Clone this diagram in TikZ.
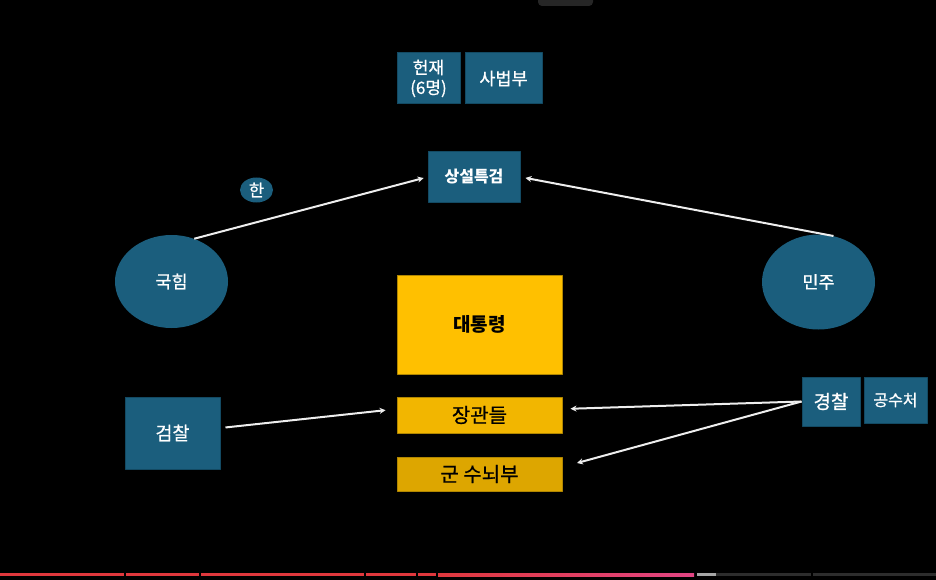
\documentclass[tikz,border=0pt]{standalone}
\usepackage{fontspec}
\setmainfont{Noto Sans CJK KR}[FakeBold=0.7, BoldFeatures={FakeBold=0}]
\usetikzlibrary{shapes.geometric, arrows.meta}

\definecolor{bluefill}{HTML}{1B5E7D}
\definecolor{blueline}{HTML}{134A63}
\definecolor{goldA}{HTML}{FFC000}
\definecolor{goldB}{HTML}{F2B600}
\definecolor{goldC}{HTML}{DDA600}
\definecolor{goldline}{HTML}{B08600}
\definecolor{arrowgray}{HTML}{EEEEEE}
\definecolor{barred}{HTML}{E0383D}
\definecolor{barpink}{HTML}{E24584}

\tikzset{
  bluebox/.style={draw=blueline, fill=bluefill, text=white, line width=1pt, inner sep=0pt, align=center},
  blueblob/.style={ellipse, fill=bluefill, text=white, inner sep=0pt},
  goldbox/.style={draw=goldline, line width=1pt, text=black, inner sep=0pt, minimum width=165pt},
  link/.style={draw=arrowgray, line width=2pt, -{Stealth[length=6pt, width=6pt]}},
  txt/.style={font=\fontsize{#1}{#1}\selectfont},
  boldtxt/.style={font=\fontsize{#1}{#1}\selectfont\bfseries}
}

\begin{document}
\begin{tikzpicture}[x=1pt, y=-1pt, line join=round]
  \fill[black] (0,0) rectangle (936,580);
  \useasboundingbox (0,0) rectangle (936,580);

  % top
  \node[bluebox, minimum width=63pt, minimum height=51pt, font=\fontsize{17}{20}\selectfont] (hunjae) at (428.5,78.5) {헌재\\(6명)};
  \node[bluebox, minimum width=77pt, minimum height=51pt, txt=17.5] (sabeob) at (503.5,78.5) {사법부};
  \node[bluebox, minimum width=92pt, minimum height=50pt, boldtxt=16] (sangseol) at (474,177) {상설특검};

  % parties
  \node[blueblob, minimum width=33pt, minimum height=25pt, txt=16.5] (han) at (256.5,190) {한};
  \node[blueblob, minimum width=113pt, minimum height=93pt, txt=17.5] (gukhim) at (171.5,281.5) {국힘};
  \node[blueblob, minimum width=113pt, minimum height=95pt, txt=17.5] (minju) at (818.5,282) {민주};

  % executive
  \node[goldbox, fill=goldA, minimum height=99pt, boldtxt=19] (president) at (479.5,324.5) {대통령};
  \node[goldbox, fill=goldB, minimum height=36pt, txt=20] (ministers) at (479.5,415) {장관들};
  \node[goldbox, fill=goldC, minimum height=34pt, txt=20] (military) at (479.5,474) {군 수뇌부};

  % agencies
  \node[bluebox, minimum width=95pt, minimum height=72pt, txt=18.5] (geomchal) at (172.5,433) {검찰};
  \node[bluebox, minimum width=58pt, minimum height=49pt, txt=19] (gyeongchal) at (831,401.5) {경찰};
  \node[bluebox, minimum width=63pt, minimum height=46pt, txt=16] (gongsu) at (895.5,400) {공수처};

  % arrows
  \draw[link, shorten >=4pt] (gukhim.62) -- (sangseol.west);
  \draw[link, shorten >=5pt] (minju.72) -- (sangseol.east);
  \draw[link, shorten <=5pt, shorten >=11pt] ([yshift=5pt]geomchal.east) -- ([yshift=6pt]ministers.west);
  \draw[link, shorten >=8pt] (gyeongchal.west) -- ([yshift=6pt]ministers.east);
  \draw[link, shorten >=15pt] (gyeongchal.west) -- ([yshift=7pt]military.east);

  % player bar
  \fill[barred] (0,573) rectangle (124,576);
  \fill[barred] (126,573) rectangle (199,576);
  \fill[barred] (201,573) rectangle (364,576);
  \fill[barred] (366,573) rectangle (416,576);
  \fill[barred] (418,573) rectangle (436,576);
  \shade[left color=barred, right color=barpink] (438,573) rectangle (694,576);
  \fill[gray!70] (697,573) rectangle (716,576);
  \fill[gray!35!black] (716,573) rectangle (811,576);
  \fill[gray!35!black] (813,573) rectangle (936,576);
  \fill[gray!30!black, rounded corners=4pt] (538,-6) rectangle (593,6);
\end{tikzpicture}
\end{document}
